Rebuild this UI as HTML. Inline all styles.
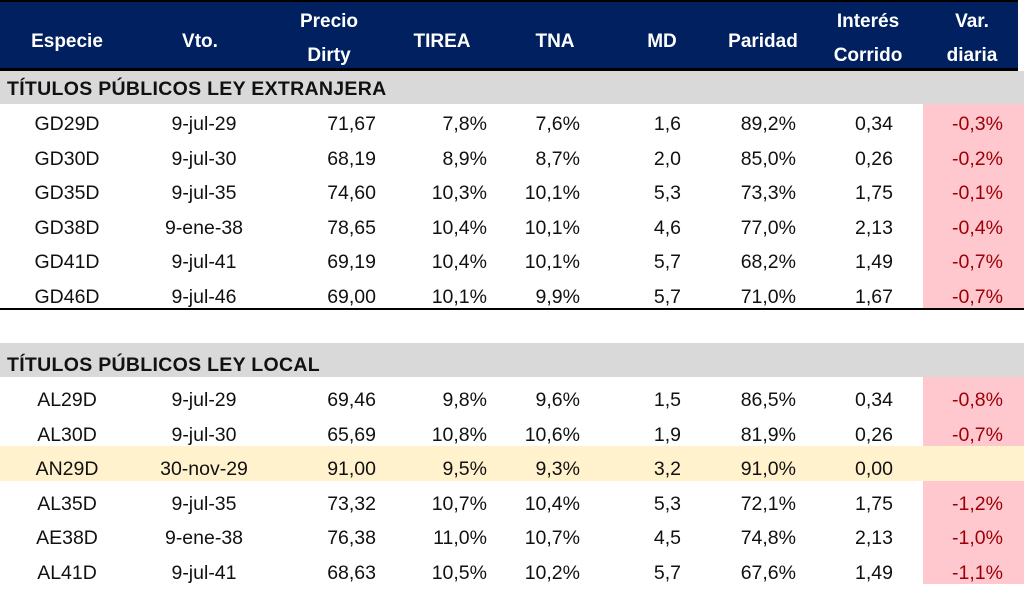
<!DOCTYPE html>
<html><head><meta charset="utf-8"><style>
body{margin:0;width:1024px;height:584px;overflow:hidden;background:#fff;font-family:"Liberation Sans",sans-serif;position:relative}
.a{position:absolute}
.h{color:#fff;font-weight:bold;font-size:19px;text-align:center;line-height:34px}
.r{position:absolute;left:0;width:1024px;height:34.5px;font-size:19.5px;line-height:34.5px;color:#111}
.r span{position:absolute}
.c{text-align:center;width:140px}
.n{text-align:right}
.sec{font-weight:bold;font-size:19.5px;color:#111;letter-spacing:0.3px}
</style></head><body>
<div class="a" style="left:0;top:0;width:1018px;height:2px;background:#000"></div>
<div class="a" style="left:0;top:2px;width:1018px;height:66px;background:#002060"></div>
<div class="a" style="left:0;top:68px;width:1018px;height:3px;background:#000"></div>
<div class="a h" style="left:0;top:25px;width:134px">Especie</div>
<div class="a h" style="left:130px;top:25px;width:140px">Vto.</div>
<div class="a h" style="left:269px;top:5px;width:120px">Precio<br>Dirty</div>
<div class="a h" style="left:392px;top:25px;width:100px">TIREA</div>
<div class="a h" style="left:505px;top:25px;width:100px">TNA</div>
<div class="a h" style="left:612px;top:25px;width:100px">MD</div>
<div class="a h" style="left:708px;top:25px;width:110px">Paridad</div>
<div class="a h" style="left:808px;top:5px;width:120px">Interés<br>Corrido</div>
<div class="a h" style="left:922px;top:5px;width:100px">Var.<br>diaria</div>

<div class="a" style="left:0;top:71px;width:1024px;height:33px;background:#d9d9d9"></div>
<div class="a sec" style="left:7px;top:72px;line-height:35px">TÍTULOS PÚBLICOS LEY EXTRANJERA</div>
<div class="a" style="left:923px;top:104px;width:101px;height:205px;background:#ffc7ce"></div>
<div class="a" style="left:0;top:308px;width:1024px;height:2px;background:#000"></div>

<div class="a" style="left:0;top:343px;width:1024px;height:34px;background:#d9d9d9"></div>
<div class="a sec" style="left:7px;top:345px;line-height:40px">TÍTULOS PÚBLICOS LEY LOCAL</div>
<div class="a" style="left:0;top:446px;width:1024px;height:35px;background:#fff2cc"></div>
<div class="a" style="left:923px;top:377px;width:101px;height:69px;background:#ffc7ce"></div>
<div class="a" style="left:923px;top:481px;width:101px;height:103px;background:#ffc7ce"></div>

<div id="rows"></div>
<script>
var d=[
[104,"GD29D","9-jul-29","71,67","7,8%","7,6%","1,6","89,2%","0,34","-0,3%"],
[138.5,"GD30D","9-jul-30","68,19","8,9%","8,7%","2,0","85,0%","0,26","-0,2%"],
[173,"GD35D","9-jul-35","74,60","10,3%","10,1%","5,3","73,3%","1,75","-0,1%"],
[207.5,"GD38D","9-ene-38","78,65","10,4%","10,1%","4,6","77,0%","2,13","-0,4%"],
[242,"GD41D","9-jul-41","69,19","10,4%","10,1%","5,7","68,2%","1,49","-0,7%"],
[276.5,"GD46D","9-jul-46","69,00","10,1%","9,9%","5,7","71,0%","1,67","-0,7%"],
[380,"AL29D","9-jul-29","69,46","9,8%","9,6%","1,5","86,5%","0,34","-0,8%"],
[414.5,"AL30D","9-jul-30","65,69","10,8%","10,6%","1,9","81,9%","0,26","-0,7%"],
[449,"AN29D","30-nov-29","91,00","9,5%","9,3%","3,2","91,0%","0,00",""],
[483.5,"AL35D","9-jul-35","73,32","10,7%","10,4%","5,3","72,1%","1,75","-1,2%"],
[518,"AE38D","9-ene-38","76,38","11,0%","10,7%","4,5","74,8%","2,13","-1,0%"],
[552.5,"AL41D","9-jul-41","68,63","10,5%","10,2%","5,7","67,6%","1,49","-1,1%"]];
var rights=[376,487,580,681,796,893,1003],h="";
d.forEach(function(r){
 h+='<div class="r" style="top:'+(r[0]+3)+'px"><span class="c" style="left:-3px">'+r[1]+'</span><span class="c" style="left:134px">'+r[2]+'</span>';
 for(var i=0;i<7;i++){h+='<span class="n" style="right:'+(1024-rights[i])+'px'+(i==6?';color:#9c0006':'')+'">'+r[3+i]+'</span>';}
 h+='</div>';});
document.getElementById("rows").innerHTML=h;
</script>
</body></html>
